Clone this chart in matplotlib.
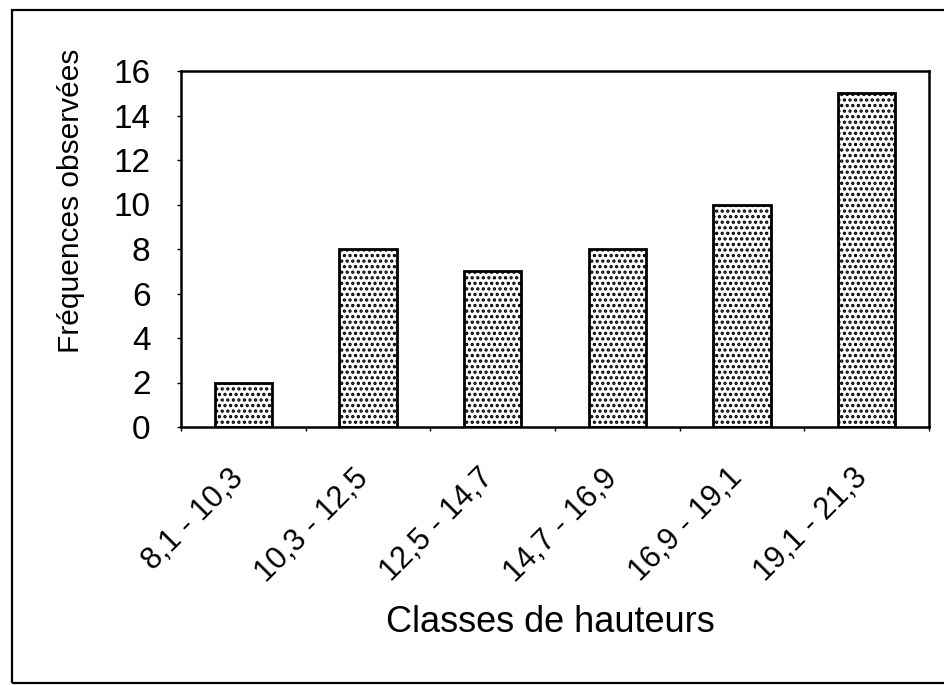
import matplotlib
matplotlib.use("Agg")
import matplotlib.pyplot as plt
from matplotlib.patches import Rectangle
from matplotlib.transforms import ScaledTranslation
import numpy as np

categories = ["8,1 - 10,3", "10,3 - 12,5", "12,5 - 14,7", "14,7 - 16,9", "16,9 - 19,1", "19,1 - 21,3"]
frequencies = [2, 8, 7, 8, 10, 15]
yticks = [0, 2, 4, 6, 8, 10, 12, 14, 16]

plt.rcParams['font.family'] = ['Liberation Sans', 'DejaVu Sans']
plt.rcParams['hatch.linewidth'] = 1.6

fig = plt.figure(figsize=(9.44, 6.85), dpi=100)
ax = fig.add_axes([181/944, 1 - 427/685, (929-181)/944, (427-71)/685])

x = np.arange(len(categories))
ax.bar(x, frequencies, width=0.46, color='white', edgecolor='black',
       linewidth=2.0, hatch='...', zorder=2)

ax.set_xlim(-0.5, len(categories) - 0.5)
ax.set_ylim(0, 16)
ax.set_yticks(yticks)
ax.set_yticklabels([str(v) for v in yticks], fontsize=24)
ax.set_xticks(x)
ax.set_xticklabels(categories, rotation=45, ha='right', va='top',
                   rotation_mode='anchor', fontsize=22)
ax.tick_params(axis='x', length=0, pad=26)
off = ScaledTranslation(-15/100, 0, fig.dpi_scale_trans)
for lbl in ax.get_xticklabels():
    lbl.set_transform(lbl.get_transform() + off)
ax.set_xticks(np.arange(-0.5, len(categories), 1.0), minor=True)
ax.tick_params(axis='x', which='minor', length=3, width=1)
ax.tick_params(axis='y', length=3, width=1, pad=19)
for s in ax.spines.values():
    s.set_linewidth(1.8)

fig.text(71/944, 1 - 201/685, "Fréquences observées", fontsize=21.5,
         rotation=90, ha='center', va='center')
fig.text(550/944, 1 - 622/685, "Classes de hauteurs", fontsize=26,
         ha='center', va='center')

fig.patches.append(Rectangle((12/944, 2/685), 1.0, (683-10)/685,
                             transform=fig.transFigure, fill=False,
                             edgecolor='black', linewidth=1.6))

fig.savefig("out.png", dpi=100)
